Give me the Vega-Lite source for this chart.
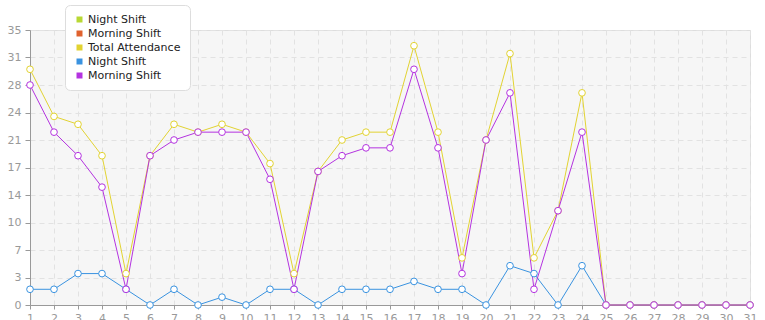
{
  "$schema": "https://vega.github.io/schema/vega-lite/v6.json",
  "width": 720,
  "height": 275,
  "autosize": "none",
  "padding": {"left": 30, "top": 30, "right": 15, "bottom": 15},
  "background": "white",
  "title": {"text": "Monthly Attendance", "anchor": "start", "frame": "group", "dx": 230, "offset": 7, "fontSize": 13, "font": "DejaVu Sans", "fontWeight": "normal", "color": "#333333"},
  "config": {
    "view": {"fill": "#f6f6f6", "stroke": "#dddddd"},
    "axis": {"labelFont": "DejaVu Sans", "labelFontSize": 11, "labelColor": "#999999", "domainColor": "#999999", "tickColor": "#999999", "gridColor": "#e2e2e2", "gridDash": [5, 4], "title": null}
  },
  "data": {"values": [
    {"day": 1, "Night Shift": 2, "Total Attendance": 30, "Morning Shift": 28},
    {"day": 2, "Night Shift": 2, "Total Attendance": 24, "Morning Shift": 22},
    {"day": 3, "Night Shift": 4, "Total Attendance": 23, "Morning Shift": 19},
    {"day": 4, "Night Shift": 4, "Total Attendance": 19, "Morning Shift": 15},
    {"day": 5, "Night Shift": 2, "Total Attendance": 4, "Morning Shift": 2},
    {"day": 6, "Night Shift": 0, "Total Attendance": 19, "Morning Shift": 19},
    {"day": 7, "Night Shift": 2, "Total Attendance": 23, "Morning Shift": 21},
    {"day": 8, "Night Shift": 0, "Total Attendance": 22, "Morning Shift": 22},
    {"day": 9, "Night Shift": 1, "Total Attendance": 23, "Morning Shift": 22},
    {"day": 10, "Night Shift": 0, "Total Attendance": 22, "Morning Shift": 22},
    {"day": 11, "Night Shift": 2, "Total Attendance": 18, "Morning Shift": 16},
    {"day": 12, "Night Shift": 2, "Total Attendance": 4, "Morning Shift": 2},
    {"day": 13, "Night Shift": 0, "Total Attendance": 17, "Morning Shift": 17},
    {"day": 14, "Night Shift": 2, "Total Attendance": 21, "Morning Shift": 19},
    {"day": 15, "Night Shift": 2, "Total Attendance": 22, "Morning Shift": 20},
    {"day": 16, "Night Shift": 2, "Total Attendance": 22, "Morning Shift": 20},
    {"day": 17, "Night Shift": 3, "Total Attendance": 33, "Morning Shift": 30},
    {"day": 18, "Night Shift": 2, "Total Attendance": 22, "Morning Shift": 20},
    {"day": 19, "Night Shift": 2, "Total Attendance": 6, "Morning Shift": 4},
    {"day": 20, "Night Shift": 0, "Total Attendance": 21, "Morning Shift": 21},
    {"day": 21, "Night Shift": 5, "Total Attendance": 32, "Morning Shift": 27},
    {"day": 22, "Night Shift": 4, "Total Attendance": 6, "Morning Shift": 2},
    {"day": 23, "Night Shift": 0, "Total Attendance": 12, "Morning Shift": 12},
    {"day": 24, "Night Shift": 5, "Total Attendance": 27, "Morning Shift": 22},
    {"day": 25, "Night Shift": 0, "Total Attendance": 0, "Morning Shift": 0},
    {"day": 26, "Night Shift": 0, "Total Attendance": 0, "Morning Shift": 0},
    {"day": 27, "Night Shift": 0, "Total Attendance": 0, "Morning Shift": 0},
    {"day": 28, "Night Shift": 0, "Total Attendance": 0, "Morning Shift": 0},
    {"day": 29, "Night Shift": 0, "Total Attendance": 0, "Morning Shift": 0},
    {"day": 30, "Night Shift": 0, "Total Attendance": 0, "Morning Shift": 0},
    {"day": 31, "Night Shift": 0, "Total Attendance": 0, "Morning Shift": 0}
  ]},
  "transform": [{"fold": ["Night Shift", "Total Attendance", "Morning Shift"], "as": ["series", "value"]}],
  "encoding": {
    "x": {"field": "day", "type": "quantitative", "scale": {"domain": [1, 31], "nice": false, "zero": false},
      "axis": {"values": [1,2,3,4,5,6,7,8,9,10,11,12,13,14,15,16,17,18,19,20,21,22,23,24,25,26,27,28,29,30,31], "tickSize": 4, "labelPadding": 3, "labelFlush": false}},
    "y": {"field": "value", "type": "quantitative", "scale": {"domain": [0, 35], "nice": false},
      "axis": {"values": [0, 3.5, 7, 10.5, 14, 17.5, 21, 24.5, 28, 31.5, 35], "labelExpr": "floor(datum.value)", "tickSize": 5, "labelPadding": 4}},
    "color": {"field": "series", "type": "nominal",
      "scale": {"domain": ["Night Shift ", "Morning Shift ", "Total Attendance", "Night Shift", "Morning Shift"], "range": ["#b8d834", "#e0622e", "#e2d332", "#3a93e0", "#b433e0"]},
      "legend": {"orient": "none", "legendX": 35, "legendY": -25, "title": null, "symbolType": "square", "symbolSize": 36, "labelFont": "DejaVu Sans", "labelFontSize": 11, "labelColor": "#222222", "labelOffset": 3, "rowPadding": 2, "padding": 9, "fillColor": "white", "strokeColor": "#dddddd", "cornerRadius": 5,
        "encode": {"symbols": {"update": {"fill": {"field": "value", "scale": "color"}, "strokeWidth": {"value": 0}}}}}
    }
  },
  "layer": [
    {"mark": {"type": "line", "strokeWidth": 1}},
    {"mark": {"type": "point", "filled": false, "fill": "white", "size": 45, "strokeWidth": 1, "opacity": 1}}
  ]
}
